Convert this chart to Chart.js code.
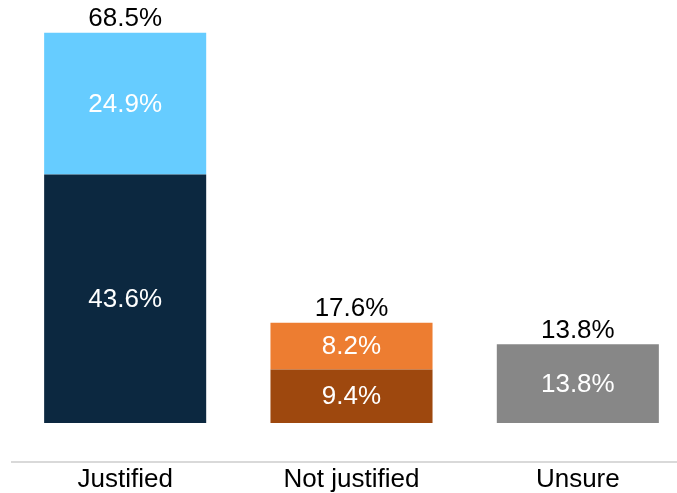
<!DOCTYPE html>
<html>
<head>
<meta charset="utf-8">
<script src="https://cdn.jsdelivr.net/npm/chart.js@4"></script>
<style>
    html, body { margin: 0; padding: 0; background: #fff; overflow: hidden; }
    .chart-wrap { width: 691px; height: 498px; }
</style>
</head>
<body>
<div class="chart-wrap"><canvas id="chart"></canvas></div>
<script>
// Data

const categories = ["Justified", "Not justified", "Unsure"];
const bottomValues = [43.6, 9.4, 13.8];
const topValues = [24.9, 8.2, null];
const totals = [68.5, 17.6, 13.8];

const bottomColors = ["#0C2840", "#9E480E", "#878787"];
const topColors = ["#66CCFF", "#ED7D31", "#878787"];

const fontFamily = "'Liberation Sans', Arial, sans-serif";
const fontSize = 26;

Chart.defaults.font.family = fontFamily;
Chart.defaults.plugins.legend.display = false;
Chart.defaults.plugins.tooltip.enabled = false;

// Labels plugin

const barLabels = {
    id: "barLabels",
    afterDatasetsDraw(chart) {
        const ctx = chart.ctx,
            yScale = chart.scales.y;

        ctx.save();
        ctx.font = fontSize + "px " + fontFamily;
        ctx.textAlign = "center";

        chart.data.datasets.forEach((dataset, di) => {
            const meta = chart.getDatasetMeta(di);
            meta.data.forEach((bar, i) => {
                const value = dataset.data[i];
                if (value == null) return;
                const props = bar.getProps(["x", "y", "base"], true);
                ctx.fillStyle = "#ffffff";
                ctx.textBaseline = "middle";
                ctx.fillText(value.toFixed(1) + "%", props.x, (props.y + props.base) / 2 + 1);
            });
        });

        const meta = chart.getDatasetMeta(0);
        totals.forEach((total, i) => {
            const x = meta.data[i].x,
                y = yScale.getPixelForValue(total);
            ctx.fillStyle = "#000000";
            ctx.textBaseline = "bottom";
            ctx.fillText(total.toFixed(1) + "%", x, y - 1);
        });

        ctx.restore();
    }
};

new Chart(document.getElementById("chart"), {
    type: "bar",
    data: {
        labels: categories,
        datasets: [
            {
                data: bottomValues,
                backgroundColor: bottomColors,
                borderWidth: 0,
                barPercentage: 0.716,
                categoryPercentage: 1,
            },
            {
                data: topValues,
                backgroundColor: topColors,
                borderWidth: 0,
                barPercentage: 0.716,
                categoryPercentage: 1,
            }
        ],
    },
    options: {
        responsive: true,
        maintainAspectRatio: false,
        animation: false,
        layout: {
            padding: { left: 12, right: 0, top: 10, bottom: 0 },
        },
        scales: {
            x: {
                stacked: true,
                grid: { display: false, drawTicks: false },
                border: { display: true, color: "#D9D9D9", width: 2 },
                ticks: { color: "#000000", font: { size: fontSize, lineHeight: 1 }, padding: 5 },
            },
            y: {
                stacked: true,
                display: false,
                min: -6.85,
                max: 72.5,
            },
        },
    },
    plugins: [barLabels],
});
</script>
</body>
</html>
